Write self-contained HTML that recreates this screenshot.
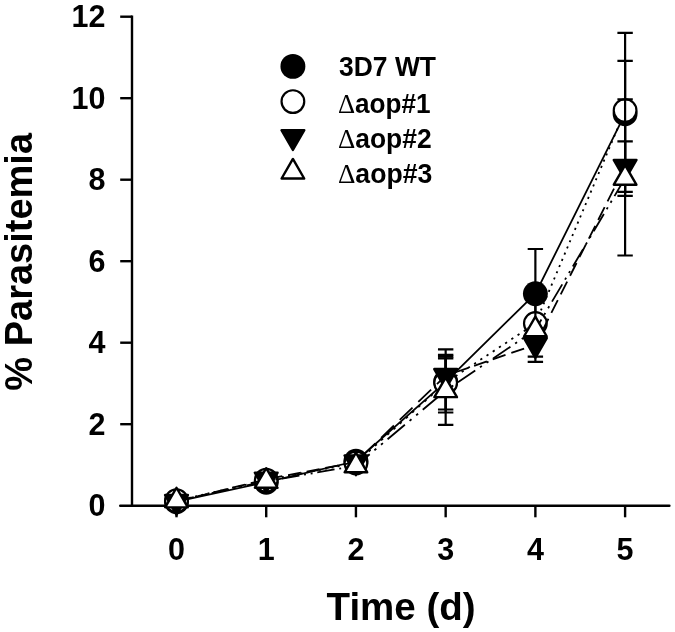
<!DOCTYPE html>
<html><head><meta charset="utf-8"><title>chart</title>
<style>
html,body{margin:0;padding:0;background:#fff;}
svg{display:block;position:absolute;left:0;top:0;will-change:transform;}
text{font-family:"Liberation Sans",sans-serif;fill:#000;}
</style></head>
<body>
<svg width="675" height="632" viewBox="0 0 675 632">
<rect width="675" height="632" fill="#fff"/>
<g id="axes">
<path d="M132.0 15.50 V505.7" stroke="#000" stroke-width="2.4" fill="none"/>
<path d="M120.2 505.7 H669.4" stroke="#000" stroke-width="2.4" fill="none" stroke-linecap="round"/>
<path d="M120.2 424.20 H132.0" stroke="#000" stroke-width="2.4" fill="none"/>
<path d="M120.2 342.70 H132.0" stroke="#000" stroke-width="2.4" fill="none"/>
<path d="M120.2 261.20 H132.0" stroke="#000" stroke-width="2.4" fill="none"/>
<path d="M120.2 179.70 H132.0" stroke="#000" stroke-width="2.4" fill="none"/>
<path d="M120.2 98.20 H132.0" stroke="#000" stroke-width="2.4" fill="none"/>
<path d="M120.2 16.70 H132.0" stroke="#000" stroke-width="2.4" fill="none"/>
<path d="M176.50 505.7 V517.3" stroke="#000" stroke-width="2.4" fill="none"/>
<path d="M266.22 505.7 V517.3" stroke="#000" stroke-width="2.4" fill="none"/>
<path d="M355.94 505.7 V517.3" stroke="#000" stroke-width="2.4" fill="none"/>
<path d="M445.66 505.7 V517.3" stroke="#000" stroke-width="2.4" fill="none"/>
<path d="M535.38 505.7 V517.3" stroke="#000" stroke-width="2.4" fill="none"/>
<path d="M625.10 505.7 V517.3" stroke="#000" stroke-width="2.4" fill="none"/>
<text x="105.5" y="516.20" text-anchor="end" font-size="30.5" font-weight="bold">0</text>
<text x="105.5" y="434.70" text-anchor="end" font-size="30.5" font-weight="bold">2</text>
<text x="105.5" y="353.20" text-anchor="end" font-size="30.5" font-weight="bold">4</text>
<text x="105.5" y="271.70" text-anchor="end" font-size="30.5" font-weight="bold">6</text>
<text x="105.5" y="190.20" text-anchor="end" font-size="30.5" font-weight="bold">8</text>
<text x="105.5" y="108.70" text-anchor="end" font-size="30.5" font-weight="bold">10</text>
<text x="105.5" y="27.20" text-anchor="end" font-size="30.5" font-weight="bold">12</text>
<text x="176.50" y="559.6" text-anchor="middle" font-size="30.5" font-weight="bold">0</text>
<text x="266.22" y="559.6" text-anchor="middle" font-size="30.5" font-weight="bold">1</text>
<text x="355.94" y="559.6" text-anchor="middle" font-size="30.5" font-weight="bold">2</text>
<text x="445.66" y="559.6" text-anchor="middle" font-size="30.5" font-weight="bold">3</text>
<text x="535.38" y="559.6" text-anchor="middle" font-size="30.5" font-weight="bold">4</text>
<text x="625.10" y="559.6" text-anchor="middle" font-size="30.5" font-weight="bold">5</text>
<text x="401.1" y="620.0" text-anchor="middle" font-size="38.5" font-weight="bold">Time (d)</text>
<text transform="translate(32.2,261.8) rotate(-90)" text-anchor="middle" font-size="38" font-weight="bold">% Parasitemia</text>
</g>
<g id="plots">
<path d="M176.50 501.62 L266.22 482.19 L355.94 461.28 L445.66 381.82 L535.38 293.68 L625.10 113.81" fill="none" stroke="#000" stroke-width="1.8"/>
<path d="M445.66 349.3 V409.5 M437.96 349.3 H453.36 M437.96 409.5 H453.36" fill="none" stroke="#000" stroke-width="2.2"/>
<path d="M535.38 249.0 V336.0 M527.68 249.0 H543.08 M527.68 336.0 H543.08" fill="none" stroke="#000" stroke-width="2.2"/>
<path d="M625.10 32.9 V195.8 M617.40 32.9 H632.80 M617.40 195.8 H632.80" fill="none" stroke="#000" stroke-width="2.2"/>
<circle cx="176.50" cy="501.62" r="12.45" fill="#000"/>
<circle cx="266.22" cy="482.19" r="12.45" fill="#000"/>
<circle cx="355.94" cy="461.28" r="12.45" fill="#000"/>
<circle cx="445.66" cy="381.82" r="12.45" fill="#000"/>
<circle cx="535.38" cy="293.68" r="12.45" fill="#000"/>
<circle cx="625.10" cy="113.81" r="12.45" fill="#000"/>
<path d="M176.50 500.81 L266.22 480.15" fill="none" stroke="#000" stroke-width="1.8" stroke-dasharray="1.95 4.41" stroke-dashoffset="0.00"/>
<path d="M266.22 480.15 L355.94 462.91" fill="none" stroke="#000" stroke-width="1.8" stroke-dasharray="1.93 4.38" stroke-dashoffset="2.97"/>
<path d="M355.94 462.91 L445.66 382.63" fill="none" stroke="#000" stroke-width="1.8" stroke-dasharray="2.55 5.77" stroke-dashoffset="7.84"/>
<path d="M445.66 382.63 L535.38 323.55" fill="none" stroke="#000" stroke-width="1.8" stroke-dasharray="2.28 5.15" stroke-dashoffset="3.07"/>
<path d="M535.38 323.55 L625.10 110.59" fill="none" stroke="#000" stroke-width="1.8" stroke-dasharray="2.06 4.67" stroke-dashoffset="5.95"/>
<path d="M445.66 354.9 V412.5 M437.96 354.9 H453.36 M437.96 412.5 H453.36" fill="none" stroke="#000" stroke-width="2.2"/>
<path d="M535.38 318.0 V335.0 M527.68 318.0 H543.08 M527.68 335.0 H543.08" fill="none" stroke="#000" stroke-width="2.2"/>
<path d="M625.10 60.8 V160.0 M617.40 60.8 H632.80 M617.40 160.0 H632.80" fill="none" stroke="#000" stroke-width="2.2"/>
<circle cx="176.50" cy="500.81" r="11.35" fill="#fff" stroke="#000" stroke-width="2.2"/>
<circle cx="266.22" cy="480.15" r="11.35" fill="#fff" stroke="#000" stroke-width="2.2"/>
<circle cx="355.94" cy="462.91" r="11.35" fill="#fff" stroke="#000" stroke-width="2.2"/>
<circle cx="445.66" cy="382.63" r="11.35" fill="#fff" stroke="#000" stroke-width="2.2"/>
<circle cx="535.38" cy="323.55" r="11.35" fill="#fff" stroke="#000" stroke-width="2.2"/>
<circle cx="625.10" cy="110.59" r="11.35" fill="#fff" stroke="#000" stroke-width="2.2"/>
<path d="M176.50 501.62 L266.22 479.29" fill="none" stroke="#000" stroke-width="1.8" stroke-dasharray="13.19 5.98" stroke-dashoffset="0.00"/>
<path d="M266.22 479.29 L355.94 462.10" fill="none" stroke="#000" stroke-width="1.8" stroke-dasharray="13.03 5.91" stroke-dashoffset="15.60"/>
<path d="M355.94 462.10 L445.66 375.63" fill="none" stroke="#000" stroke-width="1.8" stroke-dasharray="17.78 8.06" stroke-dashoffset="16.72"/>
<path d="M445.66 375.63 L535.38 344.66" fill="none" stroke="#000" stroke-width="1.8" stroke-dasharray="13.54 6.14" stroke-dashoffset="9.27"/>
<path d="M535.38 344.66 L625.10 166.58" fill="none" stroke="#000" stroke-width="1.8" stroke-dasharray="14.33 6.49" stroke-dashoffset="6.14"/>
<path d="M445.66 356.65 V393.0 M437.96 356.65 H453.36 M437.96 393.0 H453.36" fill="none" stroke="#000" stroke-width="2.2"/>
<path d="M535.38 328.0 V356.7 M527.68 328.0 H543.08 M527.68 356.7 H543.08" fill="none" stroke="#000" stroke-width="2.2"/>
<path d="M625.10 141.4 V191.8 M617.40 141.4 H632.80 M617.40 191.8 H632.80" fill="none" stroke="#000" stroke-width="2.2"/>
<polygon points="165.10,495.04 187.90,495.04 176.50,514.79" fill="#000" stroke="#000" stroke-width="2.4" stroke-linejoin="round"/>
<polygon points="254.82,472.71 277.62,472.71 266.22,492.46" fill="#000" stroke="#000" stroke-width="2.4" stroke-linejoin="round"/>
<polygon points="344.54,455.52 367.34,455.52 355.94,475.26" fill="#000" stroke="#000" stroke-width="2.4" stroke-linejoin="round"/>
<polygon points="434.26,369.04 457.06,369.04 445.66,388.79" fill="#000" stroke="#000" stroke-width="2.4" stroke-linejoin="round"/>
<polygon points="523.98,338.07 546.78,338.07 535.38,357.82" fill="#000" stroke="#000" stroke-width="2.4" stroke-linejoin="round"/>
<polygon points="613.70,160.00 636.50,160.00 625.10,179.74" fill="#000" stroke="#000" stroke-width="2.4" stroke-linejoin="round"/>
<path d="M176.50 500.81 L266.22 481.25" fill="none" stroke="#000" stroke-width="1.8" stroke-dasharray="17.71 4.81 1.94 4.81 1.94 4.79" stroke-dashoffset="0.00"/>
<path d="M266.22 481.25 L355.94 465.76" fill="none" stroke="#000" stroke-width="1.8" stroke-dasharray="17.56 4.77 1.93 4.77 1.93 4.75" stroke-dashoffset="19.65"/>
<path d="M355.94 465.76 L445.66 390.62" fill="none" stroke="#000" stroke-width="1.8" stroke-dasharray="22.57 6.13 2.48 6.13 2.48 6.10" stroke-dashoffset="4.62"/>
<path d="M445.66 390.62 L535.38 329.74" fill="none" stroke="#000" stroke-width="1.8" stroke-dasharray="20.91 5.68 2.30 5.68 2.30 5.66" stroke-dashoffset="27.67"/>
<path d="M535.38 329.74 L625.10 178.15" fill="none" stroke="#000" stroke-width="1.8" stroke-dasharray="20.10 5.46 2.21 5.46 2.21 5.44" stroke-dashoffset="8.23"/>
<path d="M445.66 358.4 V424.9 M437.96 358.4 H453.36 M437.96 424.9 H453.36" fill="none" stroke="#000" stroke-width="2.2"/>
<path d="M535.38 293.6 V361.8 M527.68 293.6 H543.08 M527.68 361.8 H543.08" fill="none" stroke="#000" stroke-width="2.2"/>
<path d="M625.10 99.3 V255.5 M617.40 99.3 H632.80 M617.40 255.5 H632.80" fill="none" stroke="#000" stroke-width="2.2"/>
<polygon points="165.20,507.33 187.80,507.33 176.50,487.76" fill="#fff" stroke="#000" stroke-width="2.4" stroke-linejoin="round"/>
<polygon points="254.92,487.77 277.52,487.77 266.22,468.20" fill="#fff" stroke="#000" stroke-width="2.4" stroke-linejoin="round"/>
<polygon points="344.64,472.29 367.24,472.29 355.94,452.72" fill="#fff" stroke="#000" stroke-width="2.4" stroke-linejoin="round"/>
<polygon points="434.36,397.15 456.96,397.15 445.66,377.57" fill="#fff" stroke="#000" stroke-width="2.4" stroke-linejoin="round"/>
<polygon points="524.08,336.27 546.68,336.27 535.38,316.69" fill="#fff" stroke="#000" stroke-width="2.4" stroke-linejoin="round"/>
<polygon points="613.80,184.68 636.40,184.68 625.10,165.10" fill="#fff" stroke="#000" stroke-width="2.4" stroke-linejoin="round"/>
</g>
<g id="legend">
<circle cx="292.90" cy="66.40" r="12.45" fill="#000"/>
<circle cx="292.90" cy="101.60" r="11.35" fill="#fff" stroke="#000" stroke-width="2.2"/>
<polygon points="281.50,130.22 304.30,130.22 292.90,149.96" fill="#000" stroke="#000" stroke-width="2.4" stroke-linejoin="round"/>
<polygon points="281.60,178.52 304.20,178.52 292.90,158.95" fill="#fff" stroke="#000" stroke-width="2.4" stroke-linejoin="round"/>
<text transform="translate(339.0,76.3) scale(0.973,1)" font-size="27.2" font-weight="bold">3D7 WT</text>
<text transform="translate(337.9,112.6) scale(0.962,1)" font-size="27.2" font-weight="bold"><tspan font-weight="normal" font-family="Liberation Serif" font-size="27.7">Δ</tspan>aop#1</text>
<text transform="translate(337.9,147.8) scale(0.972,1)" font-size="27.2" font-weight="bold"><tspan font-weight="normal" font-family="Liberation Serif" font-size="27.7">Δ</tspan>aop#2</text>
<text transform="translate(337.9,183.0) scale(0.979,1)" font-size="27.2" font-weight="bold"><tspan font-weight="normal" font-family="Liberation Serif" font-size="27.7">Δ</tspan>aop#3</text>
</g>
</svg>
</body></html>
